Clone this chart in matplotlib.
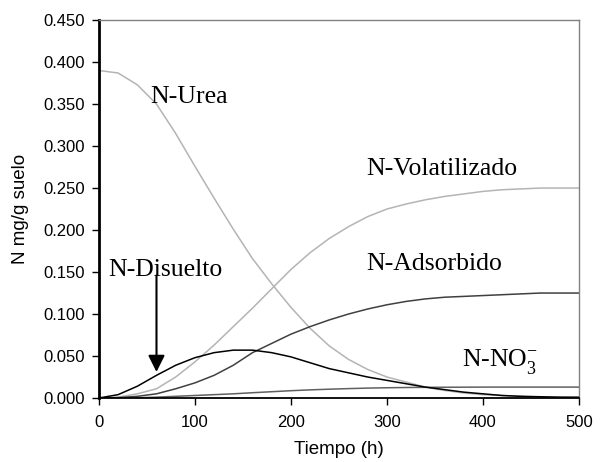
import matplotlib
matplotlib.use('Agg')
import matplotlib.pyplot as plt
import numpy as np

plt.rcParams['font.family'] = ['Liberation Sans', 'DejaVu Sans']
plt.rcParams['mathtext.fontset'] = 'custom'
plt.rcParams['mathtext.rm'] = 'Liberation Serif'

# tiempo (h)
t = np.arange(0, 501, 20)

urea = [0.390, 0.387, 0.373, 0.350, 0.315, 0.276, 0.238, 0.201, 0.166, 0.136,
        0.108, 0.083, 0.062, 0.046, 0.034, 0.025, 0.019, 0.013, 0.009, 0.006,
        0.004, 0.003, 0.002, 0.001, 0.001, 0.000]
volatilizado = [0.000, 0.001, 0.005, 0.011, 0.025, 0.043, 0.063, 0.085, 0.107, 0.130,
                0.153, 0.173, 0.190, 0.204, 0.216, 0.225, 0.231, 0.236, 0.240, 0.243,
                0.246, 0.248, 0.249, 0.250, 0.250, 0.250]
adsorbido = [0.000, 0.0005, 0.002, 0.005, 0.011, 0.018, 0.027, 0.039, 0.054, 0.065,
             0.076, 0.085, 0.093, 0.100, 0.106, 0.111, 0.115, 0.118, 0.120, 0.121,
             0.122, 0.123, 0.124, 0.125, 0.125, 0.125]
disuelto = [0.000, 0.004, 0.014, 0.027, 0.039, 0.048, 0.054, 0.057, 0.057, 0.054,
            0.049, 0.042, 0.035, 0.030, 0.025, 0.021, 0.017, 0.013, 0.010, 0.007,
            0.005, 0.003, 0.002, 0.0015, 0.001, 0.001]
nitrato = [0.000, 0.000, 0.0003, 0.001, 0.002, 0.003, 0.004, 0.005, 0.0063, 0.0075,
           0.0087, 0.0097, 0.0105, 0.0112, 0.0118, 0.0122, 0.0125, 0.0127, 0.0128, 0.0129,
           0.013, 0.013, 0.013, 0.013, 0.013, 0.013]

fig = plt.figure(figsize=(6.03, 4.62), dpi=100)
ax = fig.add_axes([0.164, 0.1385, 0.796, 0.818])

ax.plot(t, urea, color='#b4b4b4', lw=1.1)
ax.plot(t, volatilizado, color='#b4b4b4', lw=1.1)
ax.plot(t, adsorbido, color='#404040', lw=1.1)
ax.plot(t, nitrato, color='#606060', lw=1.1)
ax.plot(t, disuelto, color='black', lw=1.1)

ax.set_xlim(0, 500)
ax.set_ylim(0, 0.45)
ax.set_xticks(np.arange(0, 501, 100))
ax.set_yticks(np.arange(0, 0.451, 0.05))
ax.set_yticklabels(['%.3f' % v for v in np.arange(0, 0.451, 0.05)])
ax.tick_params(labelsize=12, direction='out', length=5, width=1)
ax.tick_params(axis='x', pad=7)
ax.tick_params(axis='y', pad=5)

for s in ['top', 'right']:
    ax.spines[s].set_color('#808080')
    ax.spines[s].set_linewidth(1)
ax.spines['left'].set_linewidth(2)
ax.spines['bottom'].set_linewidth(1.3)

ax.set_xlabel('Tiempo (h)', fontsize=13.5, labelpad=8)
ax.set_ylabel('N mg/g suelo', fontsize=13.5, labelpad=10)

serif = dict(family='Liberation Serif', fontsize=18.5, va='baseline', ha='left')
ax.text(54, 0.351, 'N-Urea', **serif)
ax.text(279, 0.265, 'N-Volatilizado', **serif)
ax.text(10, 0.145, 'N-Disuelto', **serif)
ax.text(279, 0.152, 'N-Adsorbido', **serif)
ax.text(378, 0.037, r'N-NO$_\mathregular{3}^\mathregular{-}$', **serif)

ax.annotate('', xy=(60, 0.031), xytext=(60, 0.146),
            arrowprops=dict(arrowstyle='-|>,head_length=1.0,head_width=0.5',
                            color='black', lw=1.5, shrinkA=0, shrinkB=0))

fig.savefig('out.png', dpi=100)
